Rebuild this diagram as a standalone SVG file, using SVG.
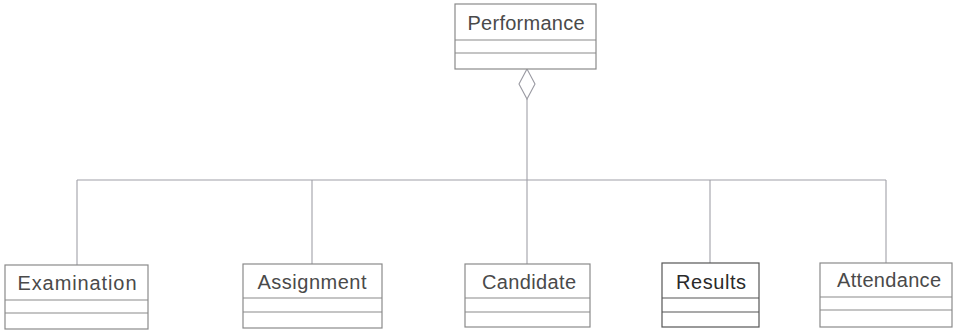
<svg xmlns="http://www.w3.org/2000/svg" width="954" height="334" viewBox="0 0 954 334">
<style>
.box{fill:#fff;stroke:#8a8a8a;stroke-width:1.2}
.div{stroke:#8a8a8a;stroke-width:1.2}
.lbl{font-family:"Liberation Sans",Arial,sans-serif;font-size:20px;fill:#4a4a4a;text-anchor:middle}
.conn{stroke:#a0a0a8;stroke-width:1.1;fill:none}
.dia{fill:#fff;stroke:#9a9aa2;stroke-width:1.1}
</style>
<rect width="954" height="334" fill="#fff"/>
<g id="connectors">
<line class="conn" x1="527" y1="99" x2="527" y2="264"/>
<line class="conn" x1="77" y1="180" x2="886" y2="180"/>
<line class="conn" x1="77" y1="180" x2="77" y2="265"/>
<line class="conn" x1="312" y1="180" x2="312" y2="264"/>
<line class="conn" x1="710" y1="180" x2="710" y2="263"/>
<line class="conn" x1="886" y1="180" x2="886" y2="263"/>
<path class="dia" d="M527,69 L535,84 L527,99 L519,84 Z"/>
</g>
<g id="performance">
<rect class="box" x="455" y="4" width="141" height="65"/>
<line class="div" x1="455" y1="40" x2="596" y2="40"/>
<line class="div" x1="455" y1="53" x2="596" y2="53"/>
<text class="lbl" x="526" y="30" textLength="117" lengthAdjust="spacing">Performance</text>
</g>
<g id="examination">
<rect class="box" x="5" y="265" width="143" height="64"/>
<line class="div" x1="5" y1="300" x2="148" y2="300"/>
<line class="div" x1="5" y1="313" x2="148" y2="313"/>
<text class="lbl" x="77" y="290" textLength="119" lengthAdjust="spacing">Examination</text>
</g>
<g id="assignment">
<rect class="box" x="243" y="264" width="139" height="64"/>
<line class="div" x1="243" y1="298" x2="382" y2="298"/>
<line class="div" x1="243" y1="312" x2="382" y2="312"/>
<text class="lbl" x="312" y="289" textLength="109" lengthAdjust="spacing">Assignment</text>
</g>
<g id="candidate">
<rect class="box" x="465" y="264" width="125" height="63"/>
<line class="div" x1="465" y1="298" x2="590" y2="298"/>
<line class="div" x1="465" y1="312" x2="590" y2="312"/>
<text class="lbl" x="529" y="289" textLength="94" lengthAdjust="spacing">Candidate</text>
</g>
<g id="results">
<rect class="box" x="662" y="263" width="97" height="64" style="stroke:#555"/>
<line class="div" x1="662" y1="298" x2="759" y2="298" style="stroke:#555"/>
<line class="div" x1="662" y1="312" x2="759" y2="312" style="stroke:#555"/>
<text class="lbl" x="711" y="289" textLength="70" lengthAdjust="spacing" style="fill:#2a2a2a">Results</text>
</g>
<g id="attendance">
<rect class="box" x="820" y="263" width="132" height="64"/>
<line class="div" x1="820" y1="297" x2="952" y2="297"/>
<line class="div" x1="820" y1="310" x2="952" y2="310"/>
<text class="lbl" x="889" y="287" textLength="104" lengthAdjust="spacing">Attendance</text>
</g>
</svg>
